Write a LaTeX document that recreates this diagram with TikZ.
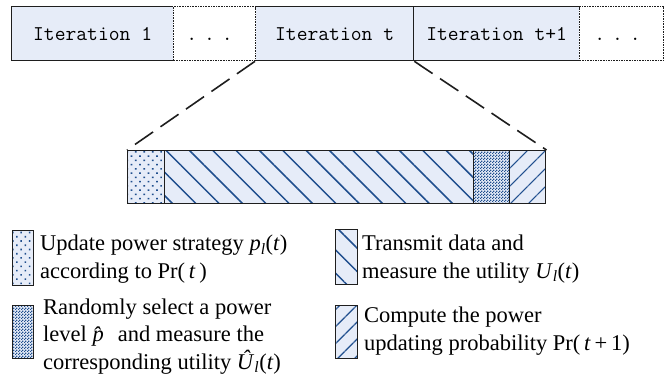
\documentclass[tikz,border=0pt]{standalone}
\usepackage{fontspec}
\setmainfont{Liberation Serif}
\usetikzlibrary{patterns,patterns.meta}
\definecolor{boxfill}{HTML}{E6ECF8}
\definecolor{pat}{HTML}{1F4E8E}
\definecolor{edge}{HTML}{1E1E1E}
\pgfdeclarepatternformonly{finecheck}{\pgfqpoint{0pt}{0pt}}{\pgfqpoint{3pt}{3pt}}{\pgfqpoint{3pt}{3pt}}{%
  \pgfpathrectangle{\pgfqpoint{0pt}{0pt}}{\pgfqpoint{1.5pt}{1.5pt}}%
  \pgfpathrectangle{\pgfqpoint{1.5pt}{1.5pt}}{\pgfqpoint{1.5pt}{1.5pt}}%
  \pgfusepath{fill}}
\begin{document}
\begin{tikzpicture}[x=1pt,y=-1pt,
  topbox/.style={inner sep=0pt, anchor=north west, minimum height=54pt,
    text height=13pt, text depth=0pt, font=\fontsize{21}{21}\ttfamily},
  itbox/.style={topbox, draw=edge, line width=1.3pt, fill=boxfill},
  dotsbox/.style={topbox, fill=white, draw=edge, line width=1.1pt,
    dash pattern=on 1.6pt off 1pt,
    preaction={draw=white, solid, line width=1.8pt}},
  seg/.style={inner sep=0pt, anchor=north west, draw=edge, line width=1.2pt,
    preaction={fill=boxfill}, pattern color=pat},
  pdots/.style={pattern={Dots[radius=1.1pt,distance=6pt,angle=45]}},
  pback/.style={pattern={Lines[angle=-45,distance=16.5pt,line width=1.5pt]}},
  pfwd/.style={pattern={Lines[angle=45,distance=13pt,line width=1.5pt]}},
  pcheck/.style={pattern=finecheck},
  legtext/.style={anchor=base west, inner sep=0pt, align=left,
    font=\fontsize{22.5}{27.5}\selectfont},
  dashline/.style={draw=edge, line width=1.6pt, dash pattern=on 22pt off 9pt}
]
\useasboundingbox (0,0) rectangle (666,381);

% top row
\node[itbox, minimum width=162pt] (it1) at (11,6) {Iteration 1};
\node[itbox, minimum width=158pt] (itt) at (255,6) {Iteration t};
\node[itbox, minimum width=166pt] (itt1) at (413,6) {Iteration t+1};
\node[dotsbox, minimum width=82pt] (d1) at (173,6) {\hspace*{-10pt}.\hspace{7pt}.\hspace{7pt}.};
\node[dotsbox, minimum width=84pt] (d2) at (579,6) {\hspace*{-8pt}.\hspace{7pt}.\hspace{7pt}.};

% zoomed bar
\node[seg, pdots, minimum width=37pt, minimum height=53pt] (sa) at (127,150) {};
\node[seg, pback, minimum width=309pt, minimum height=53pt] (sb) at (164,150) {};
\node[seg, pcheck, minimum width=36pt, minimum height=53pt] (sc) at (473,150) {};
\node[seg, pfwd, minimum width=36pt, minimum height=53pt] (sd) at (509,150) {};

\draw[dashline] (itt.south west) -- (sa.north west);
\draw[dashline] (itt.south east) -- (sd.north east);

% legend
\node[seg, pdots, minimum width=21pt, minimum height=55pt] (l1) at (12,230) {};
\node[seg, pcheck, minimum width=21pt, minimum height=53pt] (l2) at (12,305) {};
\node[seg, pback, minimum width=22pt, minimum height=55pt] (l3) at (335,229) {};
\node[seg, pfwd, minimum width=22pt, minimum height=53pt] (l4) at (335,305) {};

\node[legtext] (t1) at (40,278) {Update power strategy \textit{p}\textsubscript{\textit{l}}(\textit{t})\\according to Pr(\,\textit{t}\,)};
\node[legtext] (t2) at (43,369) {Randomly select a power\\level \textit{\^{p}} and measure the\\corresponding utility \textit{Û}\textsubscript{\textit{l}}(\textit{t})};
\node[legtext] (t3) at (362,278) {Transmit data and\\measure the utility \textit{U}\textsubscript{\textit{l}}(\textit{t})};
\node[legtext] (t4) at (364,350) {Compute the power\\updating probability Pr(\,\textit{t}\,+\,1)};
\end{tikzpicture}
\end{document}
